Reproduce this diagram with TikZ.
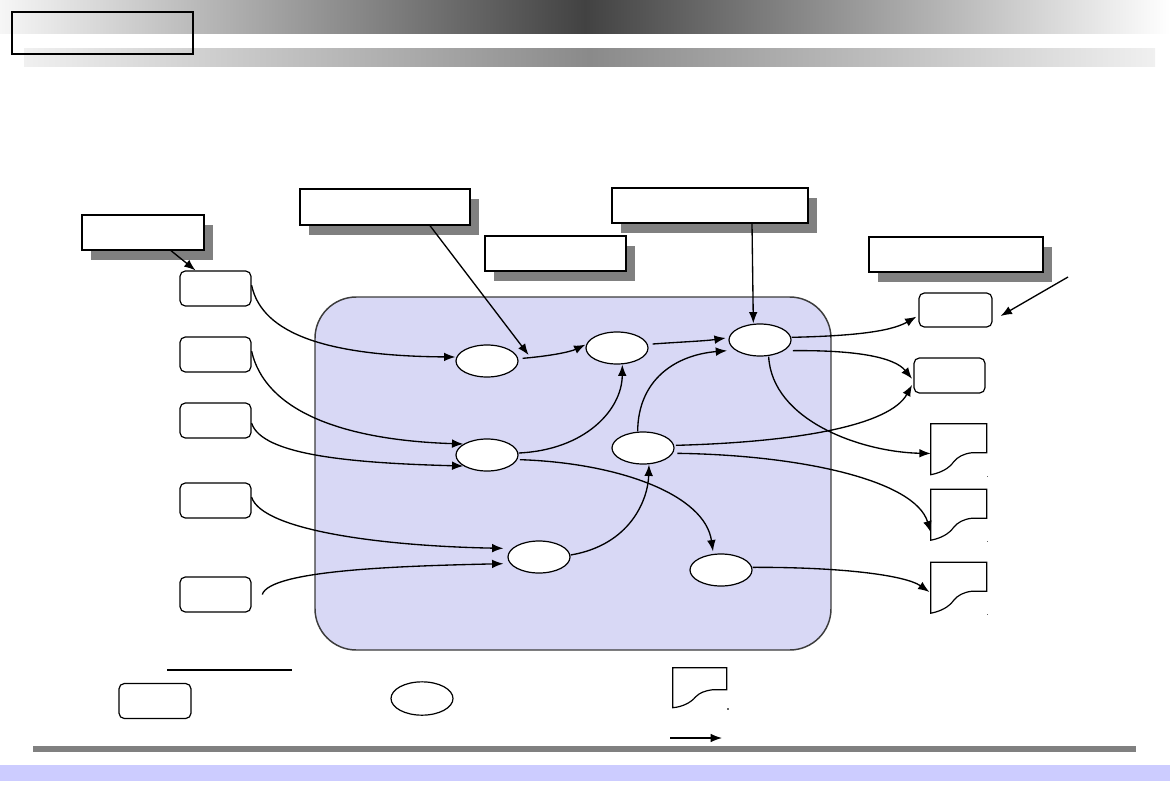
\documentclass[tikz,border=0pt]{standalone}
\usetikzlibrary{arrows.meta,shapes.geometric,shadows}
\definecolor{topleft}{RGB}{246,246,246}
\definecolor{topdark}{RGB}{66,66,66}
\definecolor{barend}{RGB}{240,240,240}
\definecolor{barmid}{RGB}{138,138,138}
\definecolor{panelfill}{RGB}{216,216,245}
\definecolor{paneldraw}{RGB}{60,60,60}
\definecolor{shadowgray}{RGB}{128,128,128}
\definecolor{bandblue}{RGB}{204,204,255}
\newcommand\docshape[1]{%
  \begin{scope}[shift={(#1.north west)}]
    \draw[docline] (0,0) -- (56,0) -- (56,29) -- (41,29)
      .. controls (33,30) and (27,33) .. (23,38)
      .. controls (18,45) and (10,49) .. (0,51) -- cycle;
  \end{scope}}
\begin{document}
\begin{tikzpicture}[x=0.75pt,y=-0.75pt,
  arr/.style={draw, line width=1pt, -{Latex[length=8.5pt,width=6.5pt]}},
  plain/.style={draw, line width=1pt},
  rbox/.style={draw, line width=0.9pt, fill=white, rounded corners=4pt,
    minimum width=53.25pt, minimum height=26.25pt, inner sep=0pt},
  ell/.style={ellipse, draw, line width=0.9pt, fill=white,
    minimum width=46.5pt, minimum height=24pt, inner sep=0pt},
  sbox/.style={draw, line width=1pt, fill=white, inner sep=0pt,
    minimum height=26.25pt,
    general shadow={fill=shadowgray, shadow xshift=6.75pt, shadow yshift=-7.5pt}},
  docnode/.style={inner sep=0pt, minimum width=42pt, minimum height=38.25pt},
  docline/.style={draw, line width=0.9pt, fill=white},
  panel/.style={draw=paneldraw, line width=1.1pt, fill=panelfill,
    rounded corners=31pt, minimum width=387pt, minimum height=264.75pt, inner sep=0pt}
]
\useasboundingbox (0,0) rectangle (1170,810);
\fill[white] (0,0) rectangle (1170,810);
% header bars
\fill[left color=topleft, right color=white, middle color=topdark] (0,0) rectangle (1170,33);
\fill[left color=barend, right color=barend, middle color=barmid] (24,48) rectangle (1155,66);
\node[draw, line width=1.5pt, minimum width=135.75pt, minimum height=31.5pt, inner sep=0pt] (hdr) at (102.5,33) {};
% footer
\fill[shadowgray] (33,746) rectangle (1136,752);
\fill[bandblue] (0,765) rectangle (1170,781);

% panel
\node[panel] (P) at (573,473.5) {};

% shadowed boxes
\node[sbox, minimum width=91.5pt] (B1) at (143,232.5) {};
\node[sbox, minimum width=127.5pt, minimum height=27pt] (B2) at (385,207) {};
\node[sbox, minimum width=105.75pt] (B3) at (555.5,253.5) {};
\node[sbox, minimum width=147pt] (B4) at (710,205.5) {};
\node[sbox, line width=1.5pt, minimum width=130.5pt] (B5) at (956,254.5) {};

% left boxes
\node[rbox] (L1) at (215.5,288.5) {};
\node[rbox] (L2) at (215.5,354.5) {};
\node[rbox] (L3) at (215.5,420.5) {};
\node[rbox] (L4) at (215.5,500.5) {};
\node[rbox] (L5) at (215.5,594.5) {};

% right boxes
\node[rbox, minimum width=54.75pt, minimum height=25.5pt] (R1) at (955.5,310) {};
\node[rbox] (R2) at (949.5,375.5) {};

% ellipses
\node[ell] (E1) at (487,361) {};
\node[ell] (E2) at (617,348) {};
\node[ell] (E3) at (760,340) {};
\node[ell] (E4) at (487,455) {};
\node[ell] (E5) at (643,448) {};
\node[ell] (E6) at (539,557) {};
\node[ell] (E7) at (721,570) {};

% documents
\node[docnode] (D1) at (959,449.5) {};
\node[docnode] (D2) at (959,515) {};
\node[docnode] (D3) at (959,588) {};
\docshape{D1}
\docshape{D2}
\docshape{D3}
\fill[black!60] (986.5,475.5) rectangle (988,477);
\fill[black!60] (986.5,540.5) rectangle (988,542);
\fill[black!60] (986.5,613.5) rectangle (988,615);

% connectors
\draw[arr] ([xshift=21pt]B1.south) -- ([xshift=-15pt]L1.north);
\draw[arr] ([yshift=2.5pt]L1.east) .. controls (262,335) and (330,356) .. ([yshift=3pt]E1.west);
\draw[arr] ([yshift=2.5pt]L2.east) .. controls (265,410) and (340,440) .. (E4.155);
\draw[arr] ([yshift=-2pt]L3.east) .. controls (262,455) and (350,463) .. (E4.205);
\draw[arr] ([yshift=2.5pt]L4.east) .. controls (262,530) and (380,546) .. ([xshift=-3pt,yshift=6.5pt]E6.west);
\draw[arr] ([xshift=8pt]L5.east) .. controls (270,570) and (400,566) .. ([xshift=-3pt,yshift=-5pt]E6.west);
\draw[arr] ([xshift=33.75pt]B2.south) -- ([xshift=7.5pt,yshift=4.5pt]E1.east);
\draw[arr] ([xshift=3pt,yshift=2pt]E1.east) .. controls (550,356) and (570,352) .. ([yshift=2.5pt]E2.west);
\draw[arr] ([xshift=3pt,yshift=3pt]E2.east) .. controls (680,342) and (705,341) .. ([xshift=-2pt,yshift=1.5pt]E3.west);
\draw[arr] ([xshift=31.5pt]B4.south) -- ([xshift=-5pt]E3.north);
\draw[arr] ([yshift=1.5pt]E4.east) .. controls (585,450) and (622,410) .. ([xshift=4pt]E2.south);
\draw[arr] ([xshift=1pt,yshift=-3.5pt]E4.east) .. controls (620,463) and (705,495) .. ([xshift=-6pt,yshift=1.5pt]E7.north);
\draw[arr] ([xshift=-4pt]E5.north) .. controls (638,380) and (675,355) .. ([xshift=-1pt,yshift=-8pt]E3.west);
\draw[arr] ([yshift=1.5pt]E6.east) .. controls (630,545) and (648,500) .. ([xshift=4.5pt]E5.south);
\draw[arr] ([yshift=2pt]E3.east) .. controls (850,336) and (890,332) .. ([xshift=-1.5pt,yshift=-5pt]R1.west);
\draw[arr] ([xshift=1pt,yshift=-8pt]E3.east) .. controls (860,350) and (895,358) .. ([xshift=-1pt,yshift=-2.5pt]R2.west);
\draw[arr] ([xshift=6.5pt]E3.south) .. controls (772,420) and (860,452) .. ([yshift=-3pt]D1.west);
\draw[arr] ([xshift=1pt,yshift=2pt]E5.east) .. controls (800,442) and (890,425) .. ([xshift=-1pt,yshift=-7pt]R2.west);
\draw[arr] ([xshift=2pt,yshift=-4pt]E5.east) .. controls (800,455) and (915,480) .. ([yshift=-13pt]D2.west);
\draw[arr] ([yshift=2pt]E7.east) .. controls (840,567) and (905,575) .. ([xshift=-1pt,yshift=-3pt]D3.west);
\coordinate (ext) at (1068,277);
\draw[arr] (ext) -- ([xshift=6pt,yshift=-4.5pt]R1.east);

% legend
\coordinate (lg1) at (167,670);
\coordinate (lg2) at (292,670);
\draw[plain] (lg1) -- (lg2);
\node[rbox, minimum width=54pt] (LB) at (155,701) {};
\node[ell, minimum height=25pt] (LE) at (422,698.5) {};
\node[inner sep=0pt, minimum width=40.5pt, minimum height=30pt] (LD) at (700,688) {};
\begin{scope}[shift={(LD.north west)}]
  \draw[docline] (0,0) -- (54,0) -- (54,22) -- (40,22)
    .. controls (32,23) and (27,25) .. (23,29)
    .. controls (18,35) and (10,39) .. (0,40) -- cycle;
\end{scope}
\fill[black!60] (727,708) rectangle (728.5,709.5);
\coordinate (la1) at (670,738);
\coordinate (la2) at (722,738);
\draw[arr] (la1) -- (la2);
\end{tikzpicture}
\end{document}
